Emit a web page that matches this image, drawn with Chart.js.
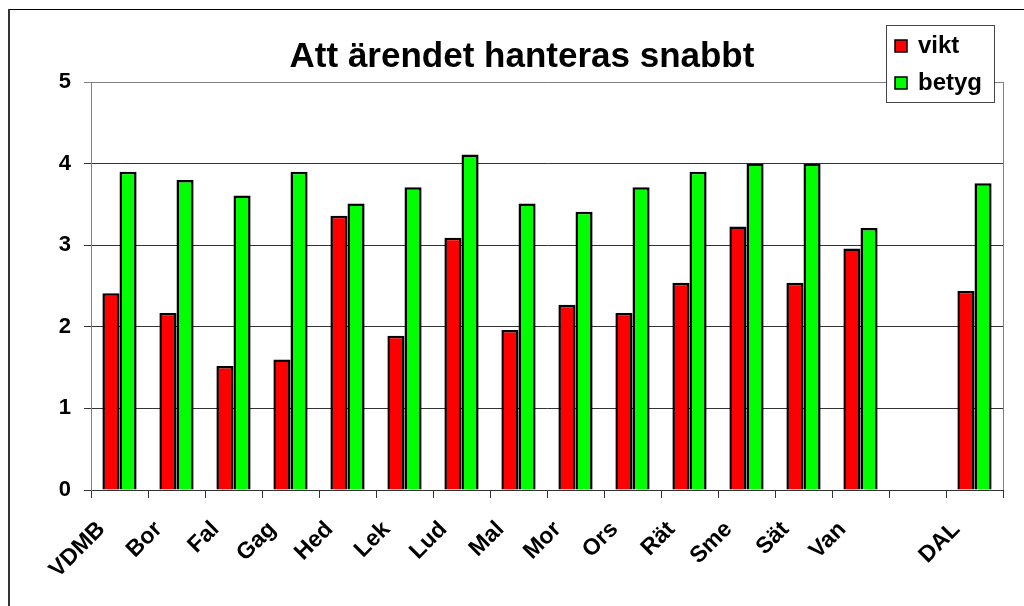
<!DOCTYPE html>
<html>
<head>
<meta charset="utf-8">
<script src="https://cdn.jsdelivr.net/npm/chart.js@4"></script>
<style>
  html, body { margin: 0; padding: 0; background: #fff; }
  #wrap { width: 1024px; height: 606px; }
</style>
</head>
<body>
<div id="wrap"><canvas id="chart" width="1024" height="606"></canvas></div>
<script>
// Chart values
const chartTitle = 'Att ärendet hanteras snabbt';
const categories = ['VDMB', 'Bor', 'Fal', 'Gag', 'Hed', 'Lek', 'Lud', 'Mal', 'Mor', 'Ors', 'Rät', 'Sme', 'Sät', 'Van', '', 'DAL'];
const viktValues = [2.41, 2.17, 1.52, 1.60, 3.36, 1.89, 3.09, 1.96, 2.27, 2.17, 2.54, 3.23, 2.54, 2.96, null, 2.44];
const betygValues = [3.90, 3.80, 3.61, 3.90, 3.51, 3.71, 4.11, 3.51, 3.41, 3.71, 3.90, 4.00, 4.00, 3.21, null, 3.76];
const seriesNames = ['vikt', 'betyg'];
const yTicks = [0, 1, 2, 3, 4, 5];

const FONT = 'Liberation Sans, Arial, sans-serif';

// Outer frame, plot border on the right and the boxed legend
const framePlugin = {
    id: 'frame',
    beforeDraw(chart) {
        const ctx = chart.ctx;
        ctx.save();
        ctx.fillStyle = '#fff';
        ctx.fillRect(0, 0, chart.width, chart.height);
        ctx.strokeStyle = '#000';
        ctx.lineWidth = 1;
        ctx.beginPath();
        ctx.moveTo(8, 9.5);
        ctx.lineTo(chart.width, 9.5);
        ctx.stroke();
        ctx.strokeStyle = '#333';
        ctx.lineWidth = 2;
        ctx.beginPath();
        ctx.moveTo(9, 9);
        ctx.lineTo(9, chart.height);
        ctx.stroke();
        ctx.restore();
    },
    afterDraw(chart) {
        const ctx = chart.ctx;
        const area = chart.chartArea;
        ctx.save();
        // right border of the plot area
        ctx.strokeStyle = '#808080';
        ctx.lineWidth = 1;
        ctx.beginPath();
        ctx.moveTo(Math.round(area.right) + 0.5, area.top);
        ctx.lineTo(Math.round(area.right) + 0.5, area.bottom);
        ctx.stroke();

        // legend box
        const lx = 886, ly = 25, lw = 108, lh = 77;
        ctx.fillStyle = '#fff';
        ctx.fillRect(lx, ly, lw, lh);
        ctx.strokeStyle = '#444';
        ctx.lineWidth = 1;
        ctx.strokeRect(lx + 0.5, ly + 0.5, lw, lh);
        ctx.font = 'bold 24px ' + FONT;
        ctx.textBaseline = 'middle';
        chart.data.datasets.forEach((ds, i) => {
            const cy = ly + 21 + i * 37;
            ctx.fillStyle = ds.backgroundColor;
            ctx.fillRect(lx + 9, cy - 6, 12, 12);
            ctx.strokeStyle = '#000';
            ctx.lineWidth = 1.5;
            ctx.strokeRect(lx + 9, cy - 6, 12, 12);
            ctx.fillStyle = '#000';
            ctx.fillText(ds.label, lx + 32, cy);
        });
        ctx.restore();
    }
};

new Chart(document.getElementById('chart'), {
    type: 'bar',
    data: {
        labels: categories,
        datasets: [
            {
                label: seriesNames[0],
                data: viktValues,
                backgroundColor: '#ff0000',
                borderColor: '#000',
                borderWidth: 2.5,
                categoryPercentage: 0.6,
                barPercentage: 1.0
            },
            {
                label: seriesNames[1],
                data: betygValues,
                backgroundColor: '#00ff00',
                borderColor: '#000',
                borderWidth: 2.5,
                categoryPercentage: 0.6,
                barPercentage: 1.0
            }
        ]
    },
    options: {
        responsive: false,
        animation: false,
        layout: { padding: { top: 36, left: 41, right: 21, bottom: 0 } },
        plugins: {
            legend: { display: false },
            tooltip: { enabled: false },
            title: {
                display: true,
                text: chartTitle,
                color: '#000',
                font: { family: FONT, size: 35, weight: 'bold', lineHeight: 1.2 },
                padding: { top: 0, bottom: 4 }
            }
        },
        scales: {
            x: {
                grid: {
                    offset: true,
                    drawOnChartArea: false,
                    drawTicks: true,
                    tickLength: 8,
                    color: '#333'
                },
                border: { color: '#333', width: 1 },
                ticks: {
                    color: '#000',
                    font: { family: FONT, size: 23, weight: 'bold' },
                    minRotation: 45,
                    maxRotation: 45,
                    autoSkip: false,
                    padding: 18,
                    labelOffset: -18
                },
                afterFit(scale) { scale.height = 116; }
            },
            y: {
                min: 0,
                max: 5,
                afterBuildTicks(scale) { scale.ticks = yTicks.map(v => ({ value: v })); },
                grid: {
                    color: ctx => (ctx.tick && ctx.tick.value === 5 ? '#808080' : '#333'),
                    tickLength: 7,
                    drawTicks: true
                },
                border: { color: '#808080', width: 1 },
                ticks: {
                    color: '#000',
                    font: { family: FONT, size: 22, weight: 'bold' },
                    padding: 13
                },
                afterFit(scale) { scale.width = 50; }
            }
        }
    },
    plugins: [framePlugin]
});
</script>
</body>
</html>
